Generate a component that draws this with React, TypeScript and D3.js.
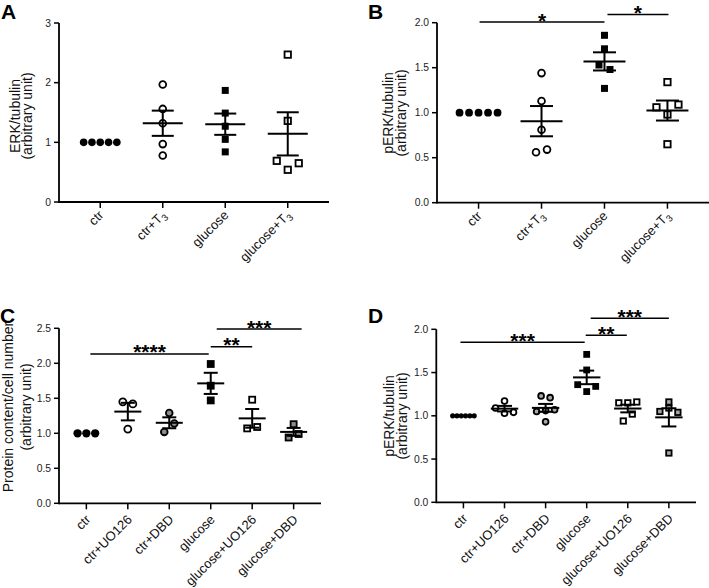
import React from 'react';
import * as d3 from 'd3';

// ---------- Panel A data ----------
const catsA = ['ctr', 'ctr+T3', 'glucose', 'glucose+T3'];
const ticksA = [0, 1, 2, 3];
const A_ctr = [1, 1, 1, 1, 1];
const A_ctrT3 = [1.97, 1.56, 1.32, 0.97, 0.78];
const A_glucose = [1.87, 1.49, 1.27, 1.05, 0.84];
const A_glucoseT3 = [2.47, 1.36, 0.54, 0.69, 0.65];

// ---------- Panel B data ----------
const catsB = ['ctr', 'ctr+T3', 'glucose', 'glucose+T3'];
const ticksB = [0, 0.5, 1, 1.5, 2];
const B_ctr = [1, 1, 1, 1, 1];
const B_ctrT3 = [1.44, 1.13, 0.81, 0.56, 0.59];
const B_glucose = [1.86, 1.71, 1.53, 1.48, 1.27];
const B_glucoseT3 = [1.34, 0.98, 1.06, 1.09, 0.65];
const sigB = [
  { from: 'ctr', to: 'glucose', y: 2.007, label: '*' },
  { from: 'glucose', to: 'glucose+T3', y: 2.092, label: '*' },
];

// ---------- Panel C data ----------
const catsC = ['ctr', 'ctr+UO126', 'ctr+DBD', 'glucose', 'glucose+UO126', 'glucose+DBD'];
const ticksC = [0, 0.5, 1, 1.5, 2, 2.5];
const C_ctr = [1, 1, 1];
const C_ctrUO = [1.45, 1.42, 1.06];
const C_ctrDBD = [1.29, 1.02, 1.14];
const C_glucose = [1.99, 1.68, 1.47];
const C_glucoseUO = [1.48, 1.07, 1.09];
const C_glucoseDBD = [1.13, 0.94, 0.99];
const sigC = [
  { from: 'ctr', to: 'glucose', y: 2.133, label: '****' },
  { from: 'glucose', to: 'glucose+UO126', y: 2.237, label: '**' },
  { from: 'glucose', to: 'glucose+DBD', y: 2.49, label: '***' },
];

// ---------- Panel D data ----------
const catsD = ['ctr', 'ctr+UO126', 'ctr+DBD', 'glucose', 'glucose+UO126', 'glucose+DBD'];
const ticksD = [0, 0.5, 1, 1.5, 2];
const D_ctr = [1, 1, 1, 1, 1, 1];
const D_ctrUO = [1.17, 1.03, 1.09, 1.04];
const D_ctrDBD = [1.23, 1.21, 1.06, 1.05, 1.07, 0.93];
const D_glucose = [1.71, 1.53, 1.28, 1.36, 1.34];
const D_glucoseUO = [1.15, 1.15, 1.16, 0.94, 1.02];
const D_glucoseDBD = [1.16, 1.09, 1.05, 1.04, 0.57];
const sigD = [
  { from: 'ctr', to: 'glucose', y: 1.85, label: '***' },
  { from: 'glucose', to: 'glucose+UO126', y: 1.931, label: '**' },
  { from: 'glucose', to: 'glucose+DBD', y: 2.127, label: '***' },
];

// ---------- styling / layout ----------
const FONT = 'Liberation Sans, Arial, Helvetica, sans-serif';
const GREY_C = '#8c8c8c';
const GREY_D = '#a8a8a8';

type Shape = 'circle' | 'square';
type Group = { values: number[]; shape: Shape; fill: string; size: number; spacing: number };
type Sig = { from: string; to: string; y: number; label: string };

type PanelCfg = {
  letter: string;
  letterPos: [number, number];
  cats: string[];
  groups: Group[];
  ticks: number[];
  tickFmt: (v: number) => string;
  yDomain: [number, number];
  xRange: [number, number];
  yRange: [number, number];
  title: string[];
  titleX: number[];
  titleY: number;
  sig: Sig[];
  sigNudge: [number, number][];
  rowThreshold: number;
  meanHalf: number;
  capHalf: number;
  labelOffset: [number, number];
};

function g(values: number[], shape: Shape, fill: string, size: number, spacing: number): Group {
  return { values, shape, fill, size, spacing };
}

const fmtInt = d3.format('d');
const fmt1 = d3.format('.1f');

const panels: PanelCfg[] = [
  {
    letter: 'A', letterPos: [1, 19], cats: catsA,
    groups: [
      g(A_ctr, 'circle', '#000', 7.6, 8.3),
      g(A_ctrT3, 'circle', '#fff', 8.6, 11),
      g(A_glucose, 'square', '#000', 7, 11),
      g(A_glucoseT3, 'square', '#fff', 8.2, 11),
    ],
    ticks: ticksA, tickFmt: fmtInt, yDomain: [0, 3], xRange: [59, 329], yRange: [202, 23],
    title: ['ERK/tubulin', '(arbitrary unit)'], titleX: [20, 32], titleY: 116,
    sig: [], sigNudge: [], rowThreshold: 10.6, meanHalf: 20, capHalf: 11, labelOffset: [4, 14],
  },
  {
    letter: 'B', letterPos: [368, 19], cats: catsB,
    groups: [
      g(B_ctr, 'circle', '#000', 7.8, 9.5),
      g(B_ctrT3, 'circle', '#fff', 8.6, 11),
      g(B_glucose, 'square', '#000', 7, 11),
      g(B_glucoseT3, 'square', '#fff', 8.2, 11),
    ],
    ticks: ticksB, tickFmt: fmt1, yDomain: [0, 2], xRange: [437, 709], yRange: [202.7, 22.7],
    title: ['pERK/tubulin', '(arbitrary unit)'], titleX: [392.5, 405.5], titleY: 113,
    sig: sigB, sigNudge: [[1, 0], [3, 1]], rowThreshold: 10.6, meanHalf: 21, capHalf: 11.5, labelOffset: [4, 14],
  },
  {
    letter: 'C', letterPos: [0, 323], cats: catsC,
    groups: [
      g(C_ctr, 'circle', '#000', 8.3, 8.8),
      g(C_ctrUO, 'circle', '#fff', 8.8, 10),
      g(C_ctrDBD, 'circle', GREY_C, 8.5, 10),
      g(C_glucose, 'square', '#000', 7.8, 10),
      g(C_glucoseUO, 'square', '#fff', 7.8, 10),
      g(C_glucoseDBD, 'square', GREY_C, 7.8, 10),
    ],
    ticks: ticksC, tickFmt: fmt1, yDomain: [0, 2.5], xRange: [59, 321], yRange: [503.3, 328.3],
    title: ['Protein content/cell number', '(arbitrary unit)'], titleX: [12.5, 30.5], titleY: 407,
    sig: sigC, sigNudge: [[4, -2], [0, 0], [6, 8]], rowThreshold: 10, meanHalf: 13.5, capHalf: 7, labelOffset: [5, 17],
  },
  {
    letter: 'D', letterPos: [368, 323], cats: catsD,
    groups: [
      g(D_ctr, 'circle', '#000', 5.2, 4.3),
      g(D_ctrUO, 'circle', '#fff', 7.6, 9),
      g(D_ctrDBD, 'circle', GREY_D, 7.6, 9),
      g(D_glucose, 'square', '#000', 6.8, 9),
      g(D_glucoseUO, 'square', '#fff', 7.2, 9),
      g(D_glucoseDBD, 'square', GREY_D, 7.2, 9),
    ],
    ticks: ticksD, tickFmt: fmt1, yDomain: [0, 2], xRange: [436.3, 696], yRange: [502.3, 329.3],
    title: ['pERK/tubulin', '(arbitrary unit)'], titleX: [394, 407], titleY: 416,
    sig: sigD, sigNudge: [[-3, -2], [-1, -1], [4, 0]], rowThreshold: 8.75, meanHalf: 13.7, capHalf: 7.5, labelOffset: [5, 17],
  },
];

// Row-based scatter layout (GraphPad-like): points whose values lie within a pixel
// threshold are laid side by side, centred on the category.
function rowOffsets(values: number[], y: (v: number) => number, threshold: number, spacing: number): number[] {
  const idx = values.map((_, i) => i).sort((a, b) => values[a] - values[b] || a - b);
  const rows: number[][] = [];
  let cur: number[] = [];
  let anchor = 0;
  for (const i of idx) {
    if (cur.length === 0) { cur = [i]; anchor = y(values[i]); continue; }
    if (Math.abs(anchor - y(values[i])) <= threshold) cur.push(i);
    else { rows.push(cur); cur = [i]; anchor = y(values[i]); }
  }
  if (cur.length) rows.push(cur);
  const out = new Array(values.length).fill(0);
  for (const row of rows) {
    const members = [...row].sort((a, b) => a - b);
    const k = members.length;
    const slots: number[] = [];
    if (k % 2 === 1) {
      slots.push(0);
      for (let j = 1; slots.length < k; j++) { slots.push(-j); slots.push(j); }
    } else {
      for (let j = 0; slots.length < k; j++) { slots.push(-(j + 0.5)); slots.push(j + 0.5); }
    }
    members.forEach((m, n) => { out[m] = slots[n] * spacing; });
  }
  return out;
}

function CatLabel({ text, x, y }: { text: string; x: number; y: number }) {
  const m = text.match(/^(.*T)3$/);
  return (
    <text transform={`translate(${x},${y}) rotate(-45)`} textAnchor="end" fontFamily={FONT} fontSize={13} fill="#111">
      {m ? (
        <>
          {m[1]}
          <tspan fontSize={9.5} dy={3}>3</tspan>
        </>
      ) : text}
    </text>
  );
}

function Panel({ cfg }: { cfg: PanelCfg }) {
  const x = d3.scalePoint<string>().domain(cfg.cats).range(cfg.xRange).padding(0.66);
  const y = d3.scaleLinear().domain(cfg.yDomain).range(cfg.yRange);
  const [x0, x1] = cfg.xRange;
  const y0 = cfg.yRange[0];
  const yTop = y(cfg.ticks[cfg.ticks.length - 1]);
  const lw = 1.8;

  return (
    <g>
      <text x={cfg.letterPos[0]} y={cfg.letterPos[1]} fontFamily={FONT} fontWeight="bold" fontSize={21} fill="#000">
        {cfg.letter}
      </text>
      {/* y-axis title */}
      {cfg.title.map((t, i) => (
        <text key={t} transform={`translate(${cfg.titleX[i]},${cfg.titleY}) rotate(-90)`} textAnchor="middle"
          fontFamily={FONT} fontSize={14} fill="#111">{t}</text>
      ))}
      {/* y-axis */}
      <line x1={x0} x2={x0} y1={y0 + lw / 2} y2={yTop} stroke="#000" strokeWidth={lw} />
      {cfg.ticks.map((t) => (
        <g key={t}>
          <line x1={x0 - 5} x2={x0} y1={y(t)} y2={y(t)} stroke="#000" strokeWidth={1.5} />
          <text x={x0 - 8} y={y(t)} dy="0.35em" textAnchor="end" fontFamily={FONT} fontSize={10.3} fill="#222">
            {cfg.tickFmt(t)}
          </text>
        </g>
      ))}
      {/* x-axis */}
      <line x1={x0} x2={x1} y1={y0} y2={y0} stroke="#000" strokeWidth={lw} />
      {cfg.cats.map((c) => (
        <g key={c}>
          <line x1={x(c)!} x2={x(c)!} y1={y0} y2={y0 + 6} stroke="#000" strokeWidth={1.5} />
          <CatLabel text={c} x={x(c)! + cfg.labelOffset[0]} y={y0 + cfg.labelOffset[1]} />
        </g>
      ))}
      {/* points */}
      {cfg.groups.map((grp, gi) => {
        const cx = x(cfg.cats[gi])!;
        const offs = rowOffsets(grp.values, y, cfg.rowThreshold, grp.spacing);
        const sw = grp.fill === '#000' ? 0 : 1.8;
        return (
          <g key={gi}>
            {grp.values.map((v, i) => {
              const px = cx + offs[i];
              const py = y(v);
              if (grp.shape === 'circle') {
                return <circle key={i} cx={px} cy={py} r={grp.size / 2 - sw / 2} fill={grp.fill} stroke="#000" strokeWidth={sw} />;
              }
              const s = grp.size - sw;
              return <rect key={i} x={px - s / 2} y={py - s / 2} width={s} height={s} fill={grp.fill} stroke="#000" strokeWidth={sw} />;
            })}
          </g>
        );
      })}
      {/* mean ± SEM */}
      {cfg.groups.map((grp, gi) => {
        const cx = x(cfg.cats[gi])!;
        const m = d3.mean(grp.values)!;
        const sd = d3.deviation(grp.values) || 0;
        const sem = sd / Math.sqrt(grp.values.length);
        if (sem === 0) return null;
        return (
          <g key={'m' + gi} stroke="#000" strokeWidth={2}>
            <line x1={cx - cfg.meanHalf} x2={cx + cfg.meanHalf} y1={y(m)} y2={y(m)} />
            <line x1={cx} x2={cx} y1={y(m - sem)} y2={y(m + sem)} />
            <line x1={cx - cfg.capHalf} x2={cx + cfg.capHalf} y1={y(m + sem)} y2={y(m + sem)} />
            <line x1={cx - cfg.capHalf} x2={cx + cfg.capHalf} y1={y(m - sem)} y2={y(m - sem)} />
          </g>
        );
      })}
      {/* significance brackets */}
      {cfg.sig.map((s, i) => {
        const nx = cfg.sigNudge[i] || [0, 0];
        const sx1 = x(s.from)! + nx[0];
        const sx2 = x(s.to)! + nx[1];
        const sy = y(s.y);
        return (
          <g key={'s' + i}>
            <line x1={sx1} x2={sx2} y1={sy} y2={sy} stroke="#000" strokeWidth={1.5} />
            <text x={(sx1 + sx2) / 2} y={sy + 5.5} textAnchor="middle" fontFamily={FONT} fontWeight="bold" fontSize={21} fill="#000">
              {s.label}
            </text>
          </g>
        );
      })}
    </g>
  );
}

export default function App() {
  return (
    <svg width={709} height={588} viewBox="0 0 709 588" style={{ position: 'absolute', left: 0, top: 0, background: '#fff' }}>
      <rect x={0} y={0} width={709} height={588} fill="#fff" />
      {panels.map((p) => (
        <Panel key={p.letter} cfg={p} />
      ))}
    </svg>
  );
}
